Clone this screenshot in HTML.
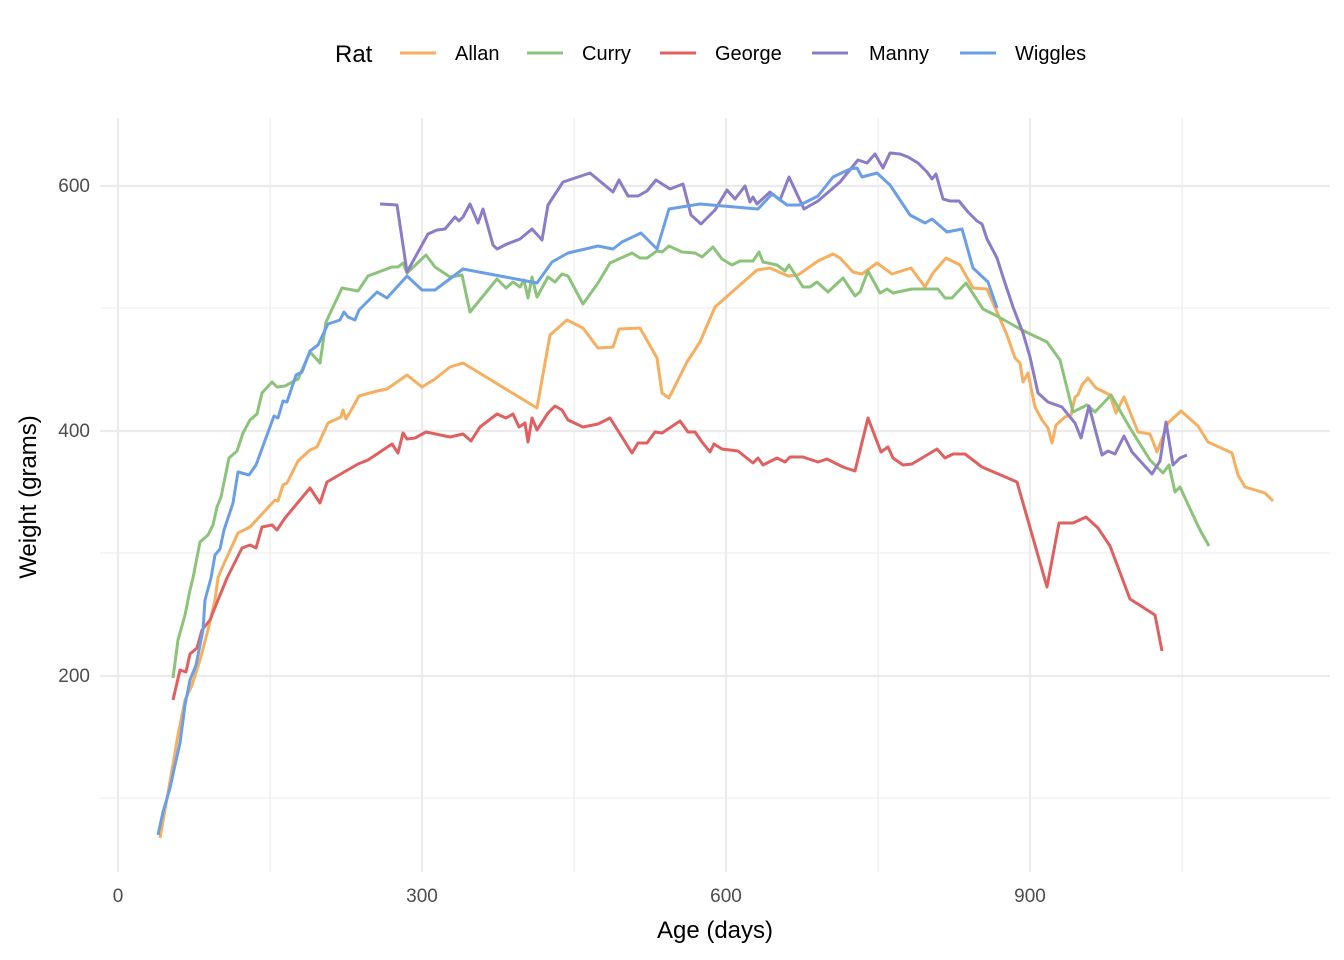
<!DOCTYPE html>
<html><head><meta charset="utf-8"><style>
html,body{margin:0;padding:0;background:#fff;}
svg{display:block;font-family:"Liberation Sans",sans-serif;}
</style></head><body>
<svg width="1344" height="960" viewBox="0 0 1344 960">
<rect width="1344" height="960" fill="#fff"/>
<g stroke="#ebebeb" stroke-width="1.1">
<line x1="270" y1="118" x2="270" y2="872"/><line x1="574" y1="118" x2="574" y2="872"/><line x1="878" y1="118" x2="878" y2="872"/><line x1="1182" y1="118" x2="1182" y2="872"/>
<line x1="100" y1="798" x2="1330" y2="798"/><line x1="100" y1="553" x2="1330" y2="553"/><line x1="100" y1="308" x2="1330" y2="308"/>
</g>
<g stroke="#ebebeb" stroke-width="2.2">
<line x1="118" y1="118" x2="118" y2="872"/><line x1="422" y1="118" x2="422" y2="872"/><line x1="726" y1="118" x2="726" y2="872"/><line x1="1030" y1="118" x2="1030" y2="872"/>
<line x1="100" y1="186" x2="1330" y2="186"/><line x1="100" y1="431" x2="1330" y2="431"/><line x1="100" y1="676" x2="1330" y2="676"/>
</g>
<g font-size="19" fill="#4d4d4d">
<text x="90" y="192" text-anchor="end">600</text><text x="90" y="437" text-anchor="end">400</text><text x="90" y="682" text-anchor="end">200</text>
<text x="118" y="902" text-anchor="middle">0</text><text x="422" y="902" text-anchor="middle">300</text><text x="726" y="902" text-anchor="middle">600</text><text x="1030" y="902" text-anchor="middle">900</text>
</g>
<text x="715" y="938" font-size="24" text-anchor="middle" fill="#000">Age (days)</text>
<text transform="translate(36,497) rotate(-90)" font-size="24" text-anchor="middle" fill="#000">Weight (grams)</text>
<g fill="none" stroke-width="3" stroke-linejoin="round">
<polyline stroke="#F6AE5F" points="160,838 165,810 172,770 178,735 185,700 192,685 200,660 208,630 215,600 218,578 222,568 238,533 250,527 275,500 278,501 283,485 287,483 298,461 310,450 317,447 328,423 341,417 343,410 346,419 353,407 359,396 377,391 387,389 407,375 422,387 435,379 450,367 463,363 537,408 550,335 567,320 583,328 598,348 613,347 619,329 640,328 657,358 662,393 669,398 687,362 700,342 715,307 757,270 770,268 788,276 798,275 818,261 833,254 840,258 853,272 862,274 877,263 892,274 911,268 925,287 933,273 946,258 960,265 973,288 987,289 997,312 1007,335 1015,358 1020,363 1023,382 1028,373 1035,407 1042,420 1048,428 1052,443 1056,425 1065,417 1071,415 1075,397 1078,395 1082,385 1088,378 1096,388 1110,395 1116,413 1124,397 1138,432 1150,434 1157,452 1168,423 1181,411 1198,426 1208,442 1232,453 1238,475 1245,487 1265,493 1273,501"/>
<polyline stroke="#8CC37A" points="173,678 178,640 185,615 190,590 193,578 200,542 208,535 213,525 217,507 221,497 229,458 237,451 243,433 250,420 257,414 262,393 272,382 277,387 285,386 298,379 310,352 320,363 326,322 342,288 358,291 368,276 392,267 398,267 403,263 407,273 426,255 435,267 450,277 462,275 470,312 497,279 506,288 513,282 520,287 524,280 528,298 532,277 537,297 548,277 555,282 562,274 568,276 583,304 598,283 610,263 632,253 640,258 647,258 657,251 662,252 669,246 682,252 695,253 702,257 713,247 722,259 732,265 740,261 753,261 759,252 763,262 777,265 785,271 789,265 803,287 810,287 817,282 828,292 843,278 855,296 860,292 868,271 880,293 887,289 893,293 912,289 938,289 945,298 952,298 966,283 983,309 997,316 1022,330 1047,342 1060,360 1073,412 1087,405 1095,412 1111,395 1130,428 1150,460 1163,473 1169,465 1175,492 1180,487 1192,513 1200,530 1209,546"/>
<polyline stroke="#E06060" points="173,700 180,670 186,672 190,654 197,648 202,630 210,620 218,600 227,578 242,548 250,545 256,548 262,527 272,525 277,530 285,518 310,488 320,503 327,482 358,464 368,460 392,444 398,453 403,433 407,439 415,438 426,432 450,437 463,434 471,441 480,427 497,414 506,418 513,414 519,427 525,423 528,442 532,418 537,430 548,413 555,406 562,410 568,420 583,427 598,424 610,418 632,453 638,443 647,443 655,432 662,433 680,421 688,432 695,432 702,442 710,452 714,444 722,449 738,451 753,463 758,458 763,465 777,458 785,462 790,457 803,457 818,462 827,459 843,467 855,471 868,418 881,452 888,447 893,458 903,465 912,464 937,449 945,458 953,454 965,454 982,467 1017,482 1047,587 1059,523 1073,523 1086,517 1098,528 1110,546 1130,599 1155,615 1162,651"/>
<polyline stroke="#8C7BC6" points="380,204 397,205 407,272 428,234 437,230 445,229 455,217 459,221 463,217 470,204 478,223 483,209 493,245 497,249 507,244 520,239 532,229 542,240 548,205 563,182 590,173 613,192 619,180 628,196 638,196 647,191 656,180 670,189 683,184 691,215 701,224 715,210 727,190 735,199 745,186 750,202 753,197 757,204 770,192 780,200 789,177 804,209 818,201 840,182 858,160 867,163 875,154 883,168 890,153 900,154 908,157 918,163 927,172 932,179 936,174 943,199 950,201 959,201 968,212 977,221 982,224 987,239 997,258 1003,277 1013,307 1023,333 1030,357 1038,393 1048,402 1062,407 1070,417 1075,423 1081,438 1089,406 1102,455 1108,451 1115,454 1124,436 1132,452 1152,474 1160,461 1166,422 1173,465 1180,458 1187,455"/>
<polyline stroke="#6A9FE8" points="158,835 163,812 170,788 175,765 180,743 185,705 190,680 196,665 203,630 205,600 211,578 215,555 220,549 224,530 233,503 238,472 249,475 256,465 274,416 278,418 283,401 287,402 296,375 302,372 310,351 318,345 328,324 340,320 344,312 348,317 355,320 359,310 377,292 387,298 407,276 422,290 435,290 463,269 537,283 552,262 568,253 598,246 613,249 622,242 641,233 657,249 669,209 700,204 758,209 772,194 787,205 800,205 818,196 833,177 850,169 857,168 862,177 877,173 890,185 910,215 925,223 932,219 947,232 962,229 973,268 988,282 997,308"/>
</g>
<text x="335" y="62" font-size="24" fill="#000">Rat</text>
<g stroke-width="3">
<line x1="400" y1="53" x2="436" y2="53" stroke="#F6AE5F"/>
<line x1="527" y1="53" x2="563" y2="53" stroke="#8CC37A"/>
<line x1="660" y1="53" x2="696" y2="53" stroke="#E06060"/>
<line x1="812" y1="53" x2="848" y2="53" stroke="#8C7BC6"/>
<line x1="960" y1="53" x2="996" y2="53" stroke="#6A9FE8"/>
</g>
<g font-size="20" fill="#000">
<text x="455" y="60">Allan</text><text x="582" y="60">Curry</text><text x="715" y="60">George</text><text x="869" y="60">Manny</text><text x="1015" y="60">Wiggles</text>
</g>
</svg>
</body></html>
